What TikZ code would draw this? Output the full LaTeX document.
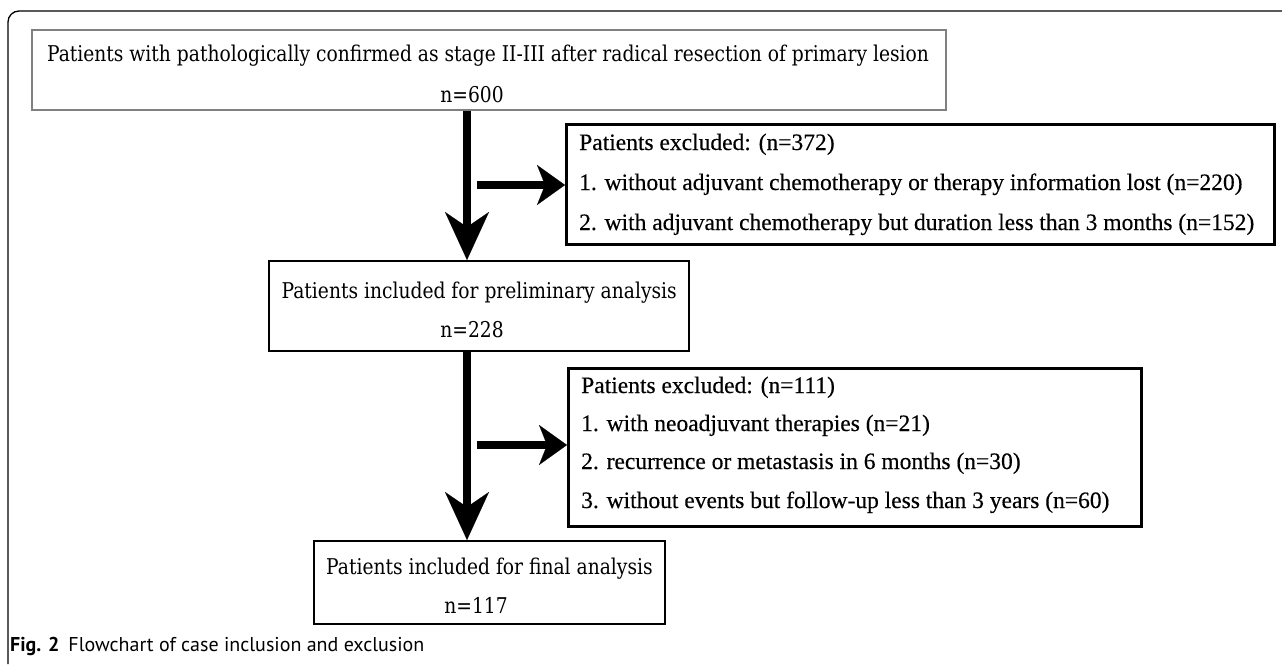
\documentclass[tikz,border=0pt]{standalone}
\usepackage{fontspec}
\usetikzlibrary{arrows.meta}
\newfontfamily\tnrfont[FakeBold=0.35]{Liberation Serif}
\newfontfamily\centfont[FakeStretch=0.86]{DejaVu Serif}
\newfontfamily\capfont{PT Sans}
\newlength\mylen
\newlength\boxlen
\begin{document}
\settowidth\mylen{\centfont\fontsize{10pt}{12pt}\selectfont Patients with pathologically confirmed as stage II-III after radical resection of primary lesion}%
\pgfmathsetmacro\csz{10*882/\mylen}%
\settowidth\boxlen{\centfont\fontsize{\csz pt}{\csz pt}\selectfont Patients included for final analysis}%
\addtolength\boxlen{24pt}%
\begin{tikzpicture}[x=1pt,y=-1pt]
\tikzset{
  cfont/.style={font=\centfont\fontsize{\csz pt}{\csz pt}\selectfont, inner sep=0pt},
  tfont/.style={font=\tnrfont\fontsize{23.5pt}{28pt}\selectfont, inner sep=0pt},
  boxg/.style={draw=black!50, line width=2pt, anchor=north west, inner sep=0pt},
  boxb/.style={draw=black, line width=2.3pt, anchor=north west, inner sep=0pt},
  boxt/.style={draw=black, line width=2.8pt, anchor=north west, inner sep=0pt},
  varrow/.style={line width=7.5pt, -{Stealth[length=48pt,width=44pt,inset=15pt,line width=0.1pt]}},
  harrow/.style={line width=8pt, -{Stealth[length=28pt,width=40pt,inset=8pt,line width=0.1pt]}}
}
\useasboundingbox (0,0) rectangle (1282,664);
% outer frame
\draw[line width=1.3pt, rounded corners=11pt] (8,664) -- (8,11) -- (1282,11);
% boxes
\node[boxg, minimum width=914pt, minimum height=80pt] (b1) at (31,29) {};
\node[boxt, minimum width=708pt, minimum height=120pt] (b3) at (565,123) {};
\node[boxb, minimum width=420pt, minimum height=90pt] (b2) at (268,260) {};
\node[boxt, minimum width=573pt, minimum height=158pt] (b4) at (567,367) {};
\node[boxb, minimum width=\boxlen, minimum height=83pt] (b5) at (313,540) {};
% texts
\node[cfont, anchor=base] (t1a) at (488,61) {Patients with pathologically confirmed as stage II-III after radical resection of primary lesion};
\node[cfont, anchor=base] (t1b) at (472,102) {n=600};
\node[tfont, anchor=base west] (t3a) at (579,150) {Patients excluded: (n=372)};
\node[tfont, anchor=base west] (t3b) at (579,190) {1. without adjuvant chemotherapy or therapy information lost (n=220)};
\node[tfont, anchor=base west] (t3c) at (579,230) {2. with adjuvant chemotherapy but duration less than 3 months (n=152)};
\node[cfont, anchor=base] (t2a) at (b2.center |- 0,298) {Patients included for preliminary analysis};
\node[cfont, anchor=base] (t2b) at (472,337) {n=228};
\node[tfont, anchor=base west] (t4a) at (581,393) {Patients excluded: (n=111)};
\node[tfont, anchor=base west] (t4b) at (581,431) {1. with neoadjuvant therapies (n=21)};
\node[tfont, anchor=base west] (t4c) at (581,469) {2. recurrence or metastasis in 6 months (n=30)};
\node[tfont, anchor=base west] (t4d) at (581,508) {3. without events but follow-up less than 3 years (n=60)};
\node[cfont, anchor=base] (t5a) at (b5.center |- 0,574) {Patients included for final analysis};
\node[cfont, anchor=base] (t5b) at (476,613) {n=117};
% connectors
\coordinate (ax) at (467,0);
\coordinate (h1) at (477,185);
\coordinate (h2) at (477,445);
\draw[varrow] (b1.south -| ax) -- (b2.north -| ax);
\draw[varrow] (b2.south -| ax) -- (b5.north -| ax);
\draw[harrow] (h1) -- (b3.west |- h1);
\draw[harrow] (h2) -- (b4.west |- h2);
% caption
\node[anchor=base west, inner sep=0pt, font=\capfont\fontsize{20pt}{22pt}\selectfont] (cap) at (10,651) {\textbf{Fig. 2}\hspace{0.45em}Flowchart of case inclusion and exclusion};
\end{tikzpicture}
\end{document}
